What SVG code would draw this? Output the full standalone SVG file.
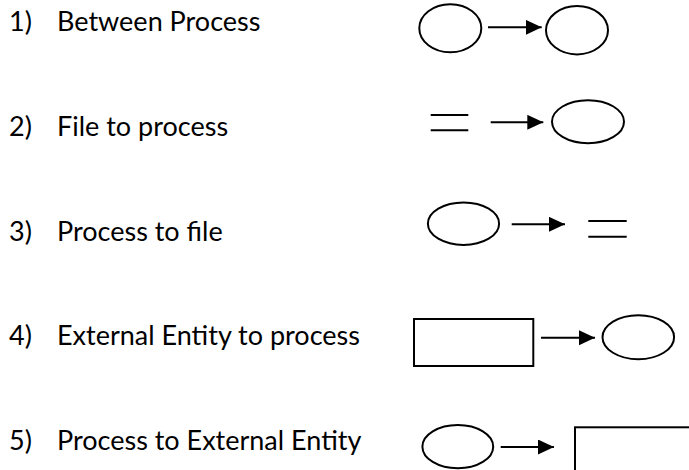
<svg xmlns="http://www.w3.org/2000/svg" width="689" height="470" viewBox="0 0 689 470">
  <style>
    .label { font-family: Lato, "Open Sans", "Liberation Sans", sans-serif; font-size: 27px; fill: #000; }
    .shape { fill: none; stroke: #000; stroke-width: 2; }
    .store { fill: none; stroke: #000; stroke-width: 2; }
    .flow { fill: none; stroke: #000; stroke-width: 2; }
  </style>
  <defs>
    <marker id="arrowhead" markerUnits="userSpaceOnUse" markerWidth="17" markerHeight="16" refX="16" refY="7.5" orient="auto">
      <path d="M0,0 L16,7.5 L0,15 Z" fill="#000"/>
    </marker>
  </defs>
  <rect width="689" height="470" fill="#fff"/>

  <!-- numbered list of flow kinds -->
  <g id="labels">
    <text class="label" x="9" y="31">1)</text>
    <text class="label" x="57" y="31">Between Process</text>
    <text class="label" x="9" y="136">2)</text>
    <text class="label" x="57" y="136">File to process</text>
    <text class="label" x="9" y="240.5">3)</text>
    <text class="label" x="57" y="240.5">Process to file</text>
    <text class="label" x="9" y="345">4)</text>
    <text class="label" x="57" y="345">External Entity to process</text>
    <text class="label" x="9" y="449.5">5)</text>
    <text class="label" x="57" y="449.5">Process to External Entity</text>
  </g>

  <!-- 1) process to process -->
  <g id="process-1a"><ellipse class="shape" cx="450.3" cy="28.3" rx="31" ry="24"/></g>
  <g id="process-1b"><ellipse class="shape" cx="577" cy="30.2" rx="31" ry="24.2"/></g>

  <!-- 2) file to process -->
  <g id="file-2">
    <line class="store" x1="430.7" y1="115" x2="468.3" y2="115"/>
    <line class="store" x1="430.7" y1="130.3" x2="468.3" y2="130.3"/>
  </g>
  <g id="process-2"><ellipse class="shape" cx="588" cy="121.7" rx="36" ry="21.5"/></g>

  <!-- 3) process to file -->
  <g id="process-3"><ellipse class="shape" cx="463.5" cy="223.7" rx="35.6" ry="21.2"/></g>
  <g id="file-3">
    <line class="store" x1="588.3" y1="221" x2="626.7" y2="221"/>
    <line class="store" x1="588.3" y1="236.7" x2="626.7" y2="236.7"/>
  </g>

  <!-- 4) external entity to process -->
  <g id="entity-4"><rect class="shape" x="414" y="319" width="119.3" height="47"/></g>
  <g id="process-4"><ellipse class="shape" cx="638.3" cy="337.2" rx="35.8" ry="22"/></g>

  <!-- 5) process to external entity -->
  <g id="process-5"><ellipse class="shape" cx="457.8" cy="446.7" rx="35.4" ry="21.6"/></g>
  <g id="entity-5"><rect class="shape" x="575" y="427.3" width="140" height="60"/></g>

  <!-- data flows -->
  <g id="connectors">
    <line class="flow" x1="488" y1="27.3" x2="541.7" y2="27.3" marker-end="url(#arrowhead)"/>
    <line class="flow" x1="490.7" y1="122.3" x2="543.3" y2="122.3" marker-end="url(#arrowhead)"/>
    <line class="flow" x1="511.7" y1="224.3" x2="565" y2="224.3" marker-end="url(#arrowhead)"/>
    <line class="flow" x1="541" y1="337.7" x2="595" y2="337.7" marker-end="url(#arrowhead)"/>
    <line class="flow" x1="500.7" y1="447" x2="554" y2="447" marker-end="url(#arrowhead)"/>
  </g>
</svg>
